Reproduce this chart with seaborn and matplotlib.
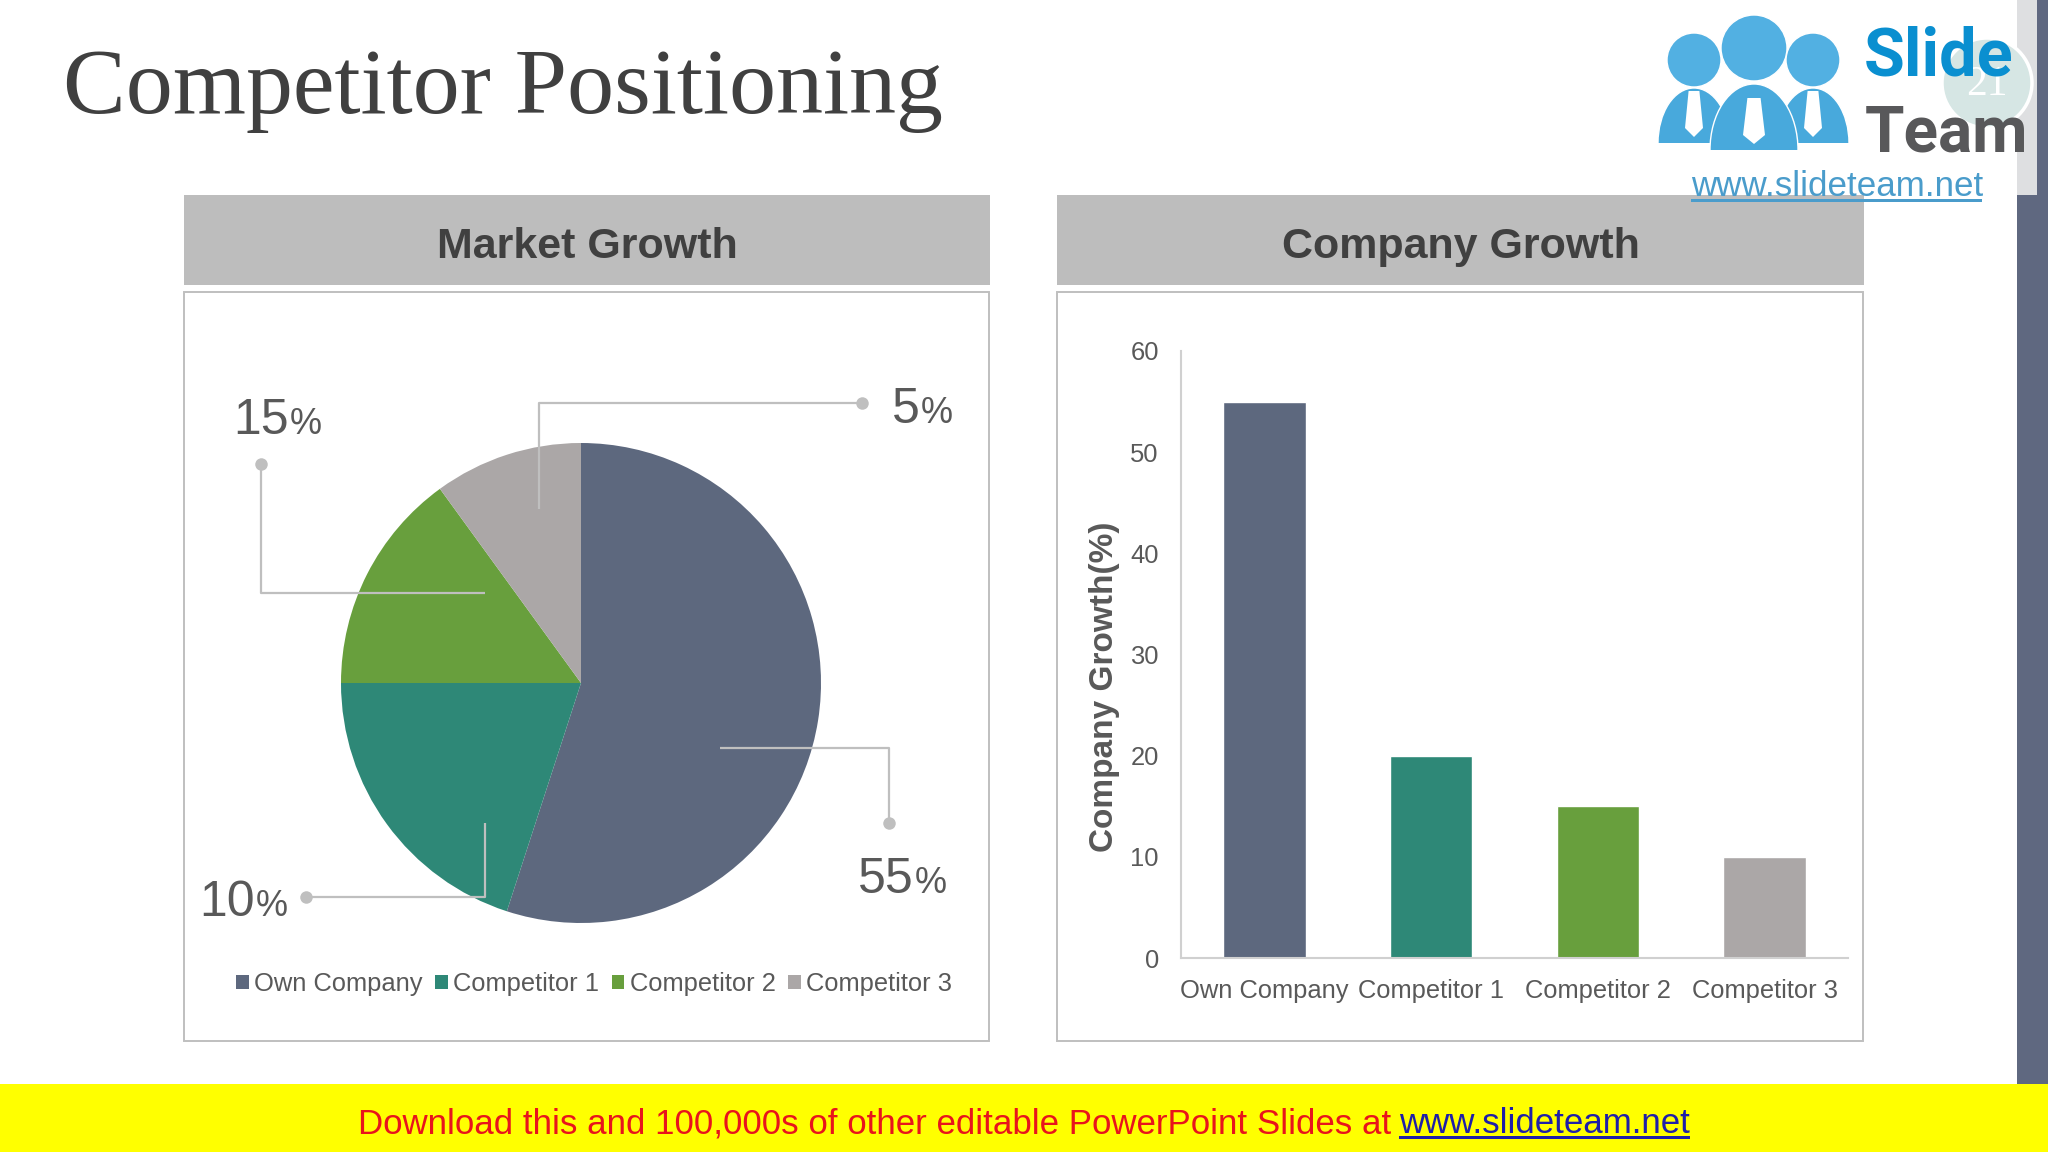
"""Competitor Positioning slide: pie and bar chart with the slide furniture around them."""

import matplotlib
matplotlib.use("Agg")
import matplotlib.pyplot as plt
import matplotlib.patches as mp
import seaborn as sns

# data
companies = ["Own Company", "Competitor 1", "Competitor 2", "Competitor 3"]
market_share = [55, 20, 15, 10]
company_growth = [55, 20, 15, 10]
colors = ["#5D687E", "#2E8877", "#689F3D", "#ABA7A7"]
growth_ticks = [0, 10, 20, 30, 40, 50, 60]
callouts = ["15", "5", "10", "55"]

GREY = "#595959"
LINE = "#BFBFBF"
W, H = 2048, 1152

sns.set_style("white")
plt.rcParams["font.family"] = ["Liberation Sans", "DejaVu Sans"]

fig = plt.figure(figsize=(20.48, 11.52), dpi=100, facecolor="white")


def px_axes(left, top, right, bottom, **kw):
    return fig.add_axes([left / W, 1 - bottom / H, (right - left) / W, (bottom - top) / H], **kw)


# pie
ax_pie = px_axes(341, 443, 821, 923, zorder=1)
wedges, _ = ax_pie.pie(market_share, colors=colors, startangle=90, counterclock=False, radius=1,
                       wedgeprops={"linewidth": 0})
ax_pie.set(xlim=(-1, 1), ylim=(-1, 1))

fig.legend(wedges, companies, loc="center", bbox_to_anchor=(594 / W, 1 - 984 / H), ncol=4, frameon=False,
           fontsize=18.4, labelcolor=GREY, handlelength=0.5, handleheight=0.5, handletextpad=0.2,
           columnspacing=0.5, borderpad=0, borderaxespad=0)

# bars
ax_bar = px_axes(1181, 351, 1848, 958, zorder=1)
sns.barplot(x=companies, y=company_growth, hue=companies, palette=colors, width=0.495, saturation=1,
            legend=False, ax=ax_bar)
ax_bar.set_xlim(-0.5, 3.5)
ax_bar.set_ylim(0, 60)
ax_bar.set_yticks(growth_ticks)
ax_bar.set_facecolor("none")
ax_bar.tick_params(axis="both", length=0, labelsize=18.4, labelcolor=GREY, pad=16)
ax_bar.tick_params(axis="x", pad=15)
ax_bar.set_ylabel("Company Growth(%)", fontsize=24, fontweight="bold", color=GREY)
ax_bar.yaxis.set_label_coords(-0.091, 0.446)
sns.despine(ax=ax_bar)
for side in ["left", "bottom"]:
    ax_bar.spines[side].set_color("#D0D0D0")
    ax_bar.spines[side].set_linewidth(1.5)

# slide furniture, in pixel coordinates
ov = fig.add_axes([0, 0, 1, 1], zorder=2)
ov.set_xlim(0, W)
ov.set_ylim(H, 0)
ov.axis("off")


def rect(x0, y0, x1, y1, **kw):
    kw.setdefault("linewidth", 0)
    ov.add_patch(mp.Rectangle((x0, y0), x1 - x0, y1 - y0, **kw))


rect(2017, 195, 2048, 1084, facecolor="#5F6880")
rect(2037, 0, 2048, 195, facecolor="#5F6880")
rect(2017, 0, 2037, 195, facecolor="#DEDFE1")
rect(0, 1084, W, 1152, facecolor="#FFFF00")

ov.text(63, 113, "Competitor Positioning", family="Liberation Serif", fontsize=67.7, color="#404040", va="baseline")

for x0, x1, title in [(184, 990, "Market Growth"), (1057, 1864, "Company Growth")]:
    rect(x0, 195, x1, 285, facecolor="#BDBDBD")
    rect(x0, 292, x1 - 1, 1041, facecolor="none", edgecolor="#BFBFBF", linewidth=1.4)
    ov.text((x0 + x1) / 2, 247, title, fontsize=31, fontweight="bold", color="#404040",
            ha="center", va="center")

# callout leaders and labels
leaders = [
    [(261, 464), (261, 593), (485, 593)],
    [(862, 403), (539, 403), (539, 509)],
    [(306, 897), (485, 897), (485, 823)],
    [(889, 823), (889, 748), (720, 748)],
]
label_pos = [(233, 434), (892, 423), (199, 916), (858, 893)]
for path, (lx, ly), value in zip(leaders, label_pos, callouts):
    ov.plot(*zip(*path), color=LINE, linewidth=1.6, solid_capstyle="butt")
    ov.plot(*path[0], "o", color=LINE, markersize=9, markeredgewidth=0)
    big = ov.text(lx, ly, value, fontsize=36, color=GREY, va="baseline")
    fig.canvas.draw()
    box = big.get_window_extent()
    ov.text(box.x1 + 1, ly, "%", fontsize=26, color=GREY, va="baseline")

# logo
rect(1637, 0, 2017, 195, facecolor="white")
BLUE = "#48A9DC"
for cx, rx, top, bottom, zo in [(1694, 36, 88, 143, 3), (1813, 36, 88, 143, 3), (1754, 44, 84, 150, 4)]:
    body = mp.Ellipse((cx, bottom), 2 * rx, 2 * (bottom - top), facecolor=BLUE, edgecolor="white",
                      linewidth=1, zorder=zo)
    ov.add_patch(body)
    body.set_clip_path(mp.Rectangle((cx - rx - 2, top - 2), 2 * rx + 4, bottom - top + 2, transform=ov.transData))
    tw = 9 if rx == 36 else 11
    ov.add_patch(mp.Polygon([(cx - tw * 0.6, bottom - 52), (cx + tw * 0.6, bottom - 52),
                             (cx + tw, bottom - 15), (cx, bottom - 6), (cx - tw, bottom - 15)],
                            facecolor="white", linewidth=0, zorder=zo + 1))
for cx, cy, r in [(1694, 60, 27), (1813, 60, 27), (1754, 48, 33)]:
    ov.add_patch(mp.Circle((cx, cy), r, facecolor="#52B0E2", edgecolor="white", linewidth=1, zorder=5))

ov.add_patch(mp.Circle((1987, 83), 45, facecolor="#D6E6E4", edgecolor="white", linewidth=2.5, zorder=3))
ov.text(1987, 85, "21", family="Liberation Serif", fontsize=30, color="white", ha="center", va="center", zorder=4)
ov.text(1864, 75, "Slide", family="Roboto", fontsize=48, fontweight="bold", color="#0A8FD0", va="baseline", zorder=5)
ov.text(1865, 152, "Team", family="Roboto", fontsize=46, fontweight="bold", color="#58585A", va="baseline", zorder=5)
ov.text(1691, 196, "www.slideteam.net", fontsize=25.2, color="#4A9CCB", va="baseline", zorder=6)
rect(1691, 199, 1982, 202, facecolor="#4A9CCB", zorder=6)

# download banner
ad = ov.text(358, 1133, "Download this and 100,000s of other editable PowerPoint Slides at ", fontsize=25.1,
             color="#E8141C", va="baseline")
fig.canvas.draw()
ad_end = ad.get_window_extent().x1 - 2
url = ov.text(ad_end, 1133, "www.slideteam.net", fontsize=25.1, color="#1F1FA8", va="baseline")
fig.canvas.draw()
rect(ad_end, 1136, url.get_window_extent().x1, 1138.5, facecolor="#1F1FA8")

fig.savefig("out.png", dpi=100)
